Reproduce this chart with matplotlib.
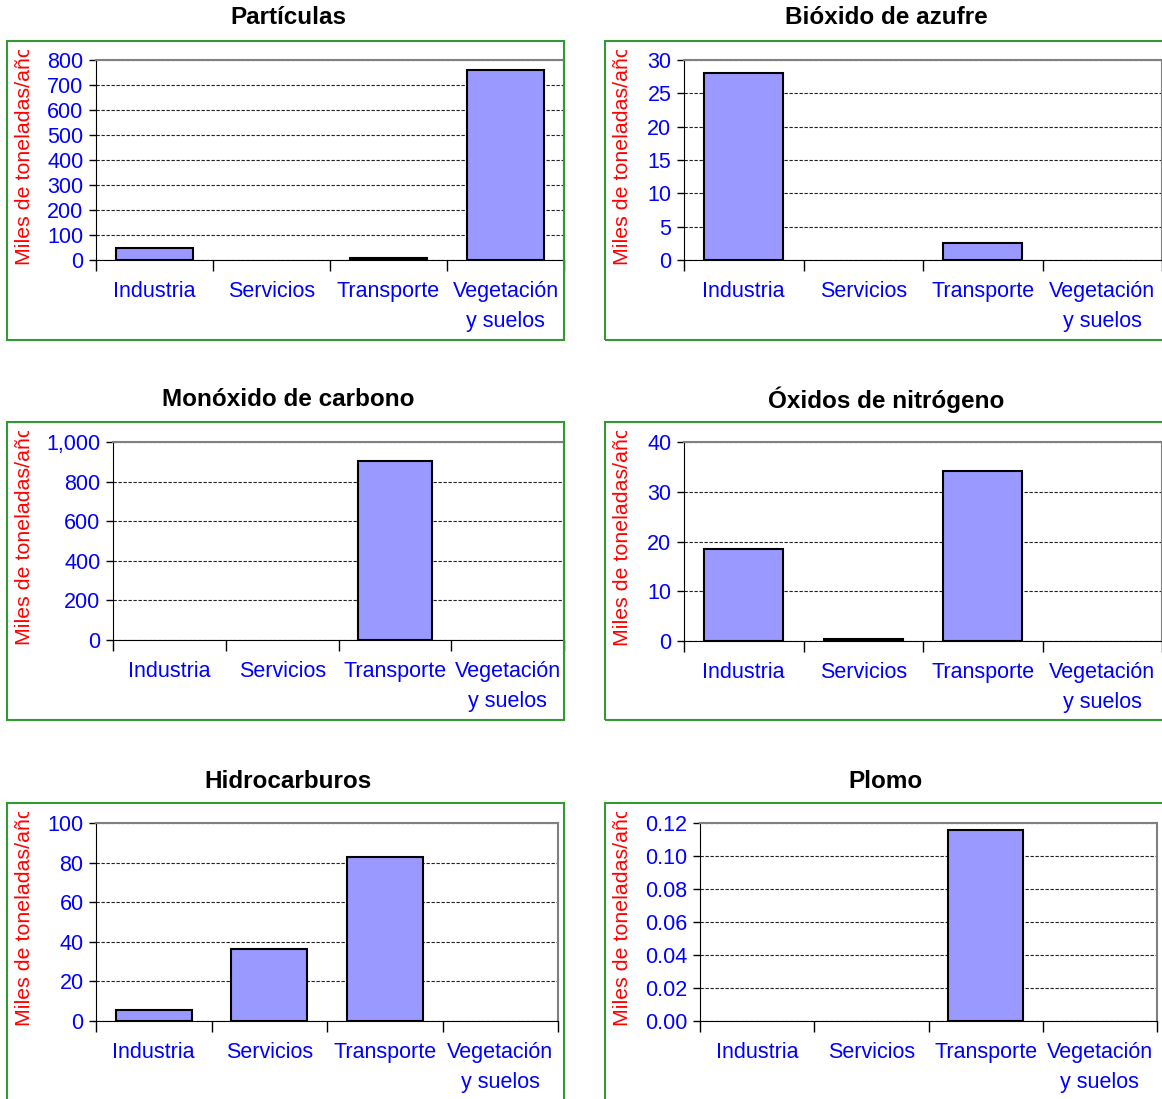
import numpy as np
import matplotlib
matplotlib.use("Agg")
import matplotlib.pyplot as plt
from matplotlib.patches import Rectangle
from matplotlib.ticker import FuncFormatter
from matplotlib.transforms import Bbox, TransformedBbox

plt.rcParams['font.family'] = ['Liberation Sans', 'DejaVu Sans']

# emisiones por sector (miles de toneladas/año)
sectores = ["Industria", "Servicios", "Transporte", "Vegetación\ny suelos"]
particulas = [47, 0, 8, 762]
bioxido_azufre = [28, 0, 2.6, 0]
monoxido_carbono = [0, 0, 905, 0]
oxidos_nitrogeno = [18.5, 0.4, 34.2, 0]
hidrocarburos = [5.4, 36.4, 82.7, 0]
plomo = [0, 0, 0.116, 0]

titulos = ["Partículas", "Bióxido de azufre", "Monóxido de carbono",
           "Óxidos de nitrógeno", "Hidrocarburos", "Plomo"]
series = [particulas, bioxido_azufre, monoxido_carbono,
          oxidos_nitrogeno, hidrocarburos, plomo]
ymax = [800, 30, 1000, 40, 100, 0.12]
ystep = [100, 5, 200, 10, 20, 0.02]
yfmt = ["{:.0f}", "{:.0f}", "{:,.0f}", "{:.0f}", "{:.0f}", "{:.2f}"]

W, H = 1162, 1099
fig = plt.figure(figsize=(W / 100, H / 100), dpi=100)

def frac(x0, y0, x1, y1):
    # pixel box (top-left origin) -> figure fraction [l, b, w, h]
    return [x0 / W, 1 - y1 / H, (x1 - x0) / W, (y1 - y0) / H]

# panel geometry in pixels: green frame, plot area, title
marcos = [(7, 41, 564, 340), (605, 41, 1170, 340),
          (7, 422, 564, 720), (605, 422, 1170, 720),
          (7, 803, 564, 1110), (605, 803, 1170, 1110)]
areas = [(96, 60, 564, 260), (684, 60, 1162, 260),
         (113, 442, 564, 640), (684, 442, 1162, 641),
         (96, 823, 558, 1021), (700, 823, 1157, 1021)]
titulo_pos = [(288, 18), (886, 18), (288, 400), (886, 400), (288, 781), (886, 781)]
ylab_x = [25, 623, 25, 623, 25, 623]

azul = "#0000FF"
x = np.arange(len(sectores))

for i in range(6):
    mx0, my0, mx1, my1 = marcos[i]
    fig.patches.append(Rectangle(((mx0) / W, 1 - my1 / H), (mx1 - mx0) / W,
                                 (my1 - my0) / H, transform=fig.transFigure,
                                 fill=False, edgecolor="#339933", lw=1.5))

    ax = fig.add_axes(frac(*areas[i]))
    vals = np.array(series[i], dtype=float)
    lws = [1.5 if v > 0 else 0 for v in vals]
    ax.bar(x, vals, width=0.66, color="#9999FF", edgecolor="black",
           linewidth=lws, zorder=3)

    ax.set_xlim(-0.5, 3.5)
    ax.set_ylim(0, ymax[i])
    ax.set_yticks(np.arange(0, ymax[i] + ystep[i] / 2, ystep[i]))
    f = yfmt[i]
    ax.yaxis.set_major_formatter(FuncFormatter(lambda v, p, f=f: f.format(v)))
    ax.yaxis.grid(True, color="#222222", linestyle=(0, (3, 1.5)), lw=0.8, zorder=1)

    ax.set_xticks(np.arange(-0.5, 4, 1))
    ax.set_xticklabels([])
    ax.set_xticks(x, minor=True)
    ax.set_xticklabels(sectores, minor=True)
    ax.tick_params(axis="x", which="major", length=8, width=1, color="black")
    ax.tick_params(axis="x", which="minor", length=0, pad=15,
                   labelsize=15.5, labelcolor=azul)
    for lab in ax.get_xticklabels(minor=True):
        lab.set_linespacing(1.55)
    ax.tick_params(axis="y", length=5, width=1, pad=4,
                   labelsize=15.5, labelcolor=azul)

    ax.spines["left"].set_color("black")
    ax.spines["bottom"].set_color("black")
    ax.spines["bottom"].set_zorder(4)
    for s in ["top", "right"]:
        ax.spines[s].set_color("#808080")
        ax.spines[s].set_linewidth(1.5)

    tx, ty = titulo_pos[i]
    fig.text(tx / W, 1 - ty / H, titulos[i], ha="center", va="center",
             fontsize=17.5, fontweight="bold")

    # vertical axis title, cut off at the top of the frame
    ylab = fig.text(ylab_x[i] / W, 1 - (areas[i][3] + 5) / H,
                    "Miles de toneladas/año", rotation=90, ha="center",
                    va="bottom", fontsize=15.4, color="#FF0000")
    clip = Bbox.from_extents(mx0 / W, 1 - my1 / H, mx1 / W, 1 - (my0 + 9) / H)
    ylab.set_clip_box(TransformedBbox(clip, fig.transFigure))
    ylab.set_clip_on(True)

plt.savefig("out.png", dpi=100)
